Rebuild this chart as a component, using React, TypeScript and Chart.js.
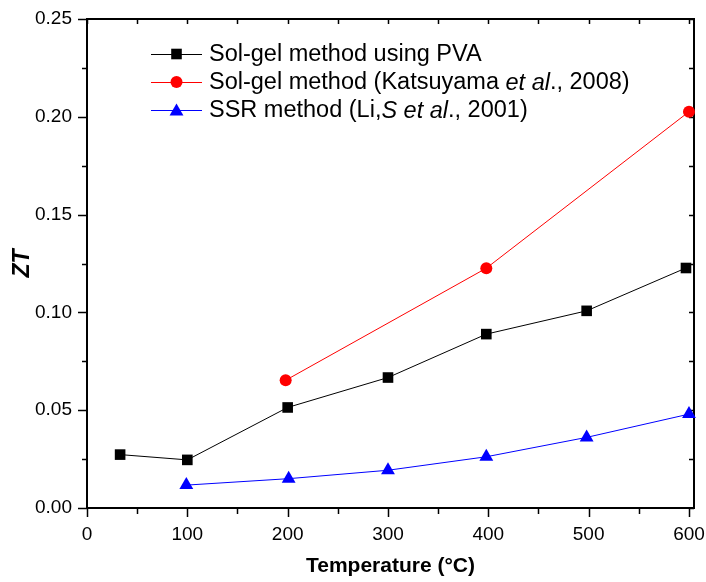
import React, { useEffect, useRef } from "react";
import { Chart, registerables } from "chart.js";

Chart.register(...registerables);

// ---- data ----
const pvaTemps = [33, 100, 200, 300, 398, 498, 597];
const pvaZT = [0.0273, 0.0246, 0.0514, 0.0667, 0.0889, 0.1008, 0.1227];
const katsuTemps = [198, 398, 600];
const katsuZT = [0.0653, 0.1226, 0.2026];
const liTemps = [99, 201, 300, 398, 498, 600];
const liZT = [0.0117, 0.015, 0.0193, 0.0262, 0.0361, 0.048];

const xTickValues = [0, 100, 200, 300, 400, 500, 600];
const yTickValues = [0, 0.05, 0.1, 0.15, 0.2, 0.25];

const FONT = "'Liberation Sans', Arial, sans-serif";

type Seg = { t: string; i?: boolean };
const legendItems: { color: string; shape: string; segs: Seg[] }[] = [
  { color: "#000000", shape: "rect", segs: [{ t: "Sol-gel method using PVA" }] },
  {
    color: "#ff0000",
    shape: "circle",
    segs: [{ t: "Sol-gel method (Katsuyama " }, { t: "et al", i: true }, { t: "., 2008)" }],
  },
  {
    color: "#0000ff",
    shape: "triangle",
    segs: [{ t: "SSR method (Li," }, { t: "S et al", i: true }, { t: "., 2001)" }],
  },
];

function drawMarker(ctx: CanvasRenderingContext2D, shape: string, x: number, y: number, color: string) {
  ctx.save();
  ctx.fillStyle = color;
  ctx.beginPath();
  if (shape === "rect") {
    const s = 5.3;
    ctx.rect(x - s, y - s, 2 * s, 2 * s);
  } else if (shape === "circle") {
    ctx.arc(x, y, 6, 0, Math.PI * 2);
  } else {
    const r = 8;
    ctx.moveTo(x, y - r);
    ctx.lineTo(x + r * Math.sin((2 * Math.PI) / 3), y + r / 2);
    ctx.lineTo(x - r * Math.sin((2 * Math.PI) / 3), y + r / 2);
    ctx.closePath();
  }
  ctx.fill();
  ctx.restore();
}

const framePlugin = {
  id: "frame",
  beforeDatasetsDraw(chart: any) {
    const { ctx, chartArea: a, scales } = chart;
    const xs = scales.x;
    const ys = scales.y;
    ctx.save();
    ctx.strokeStyle = "#000";
    ctx.lineWidth = 2;
    ctx.strokeRect(a.left, a.top, a.right - a.left, a.bottom - a.top);
    ctx.lineWidth = 1.5;
    ctx.beginPath();
    for (let v = 0; v <= 600; v += 50) {
      const px = Math.round(xs.getPixelForValue(v)) + 0.5;
      const major = v % 100 === 0;
      ctx.moveTo(px, a.bottom);
      ctx.lineTo(px, a.bottom + (major ? 9 : 6));
      ctx.moveTo(px, a.top);
      ctx.lineTo(px, a.top + 5);
    }
    for (let k = 0; k <= 10; k++) {
      const v = k * 0.025;
      const py = Math.round(ys.getPixelForValue(v)) + 0.5;
      const major = k % 2 === 0;
      ctx.moveTo(a.left, py);
      ctx.lineTo(a.left - (major ? 9 : 5), py);
      ctx.moveTo(a.right, py);
      ctx.lineTo(a.right - 5, py);
    }
    ctx.stroke();
    ctx.restore();
  },
  afterDatasetsDraw(chart: any) {
    const { ctx } = chart;
    const rows = [54, 82, 110];
    ctx.save();
    legendItems.forEach((it, i) => {
      const y = rows[i];
      ctx.strokeStyle = it.color;
      ctx.lineWidth = 1;
      ctx.beginPath();
      ctx.moveTo(151, y + 0.5);
      ctx.lineTo(202, y + 0.5);
      ctx.stroke();
      drawMarker(ctx, it.shape, 176.5, it.shape === "triangle" ? y + 1.5 : y, it.color);
      let x = 209;
      ctx.fillStyle = "#000";
      ctx.textBaseline = "middle";
      ctx.textAlign = "left";
      it.segs.forEach((s) => {
        ctx.font = `${s.i ? "italic " : ""}23.5px ${FONT}`;
        ctx.fillText(s.t, x, y + 1);
        x += ctx.measureText(s.t).width;
      });
    });
    ctx.restore();
  },
};

export default function App() {
  const ref = useRef<HTMLCanvasElement | null>(null);
  useEffect(() => {
    if (!ref.current) return;
    const toPts = (xs: number[], ys: number[]) => xs.map((x, i) => ({ x, y: ys[i] }));
    const chart = new Chart(ref.current, {
      type: "scatter",
      data: {
        datasets: [
          {
            label: "Sol-gel method using PVA",
            data: toPts(pvaTemps, pvaZT),
            showLine: true,
            borderColor: "#000000",
            backgroundColor: "#000000",
            borderWidth: 1,
            pointStyle: "rect",
            pointRadius: 7.5,
            pointBorderWidth: 0,
            clip: false,
          },
          {
            label: "Sol-gel method (Katsuyama et al., 2008)",
            data: toPts(katsuTemps, katsuZT),
            showLine: true,
            borderColor: "#ff0000",
            backgroundColor: "#ff0000",
            borderWidth: 1,
            pointStyle: "circle",
            pointRadius: 6,
            pointBorderWidth: 0,
            clip: false,
          },
          {
            label: "SSR method (Li,S et al., 2001)",
            data: toPts(liTemps, liZT),
            showLine: true,
            borderColor: "#0000ff",
            backgroundColor: "#0000ff",
            borderWidth: 1,
            pointStyle: "triangle",
            pointRadius: 8,
            pointBorderWidth: 0,
            clip: false,
          },
        ],
      },
      options: {
        animation: false,
        responsive: true,
        maintainAspectRatio: false,
        layout: { padding: { top: 19, right: 12, left: 0, bottom: 0 } },
        plugins: { legend: { display: false }, tooltip: { enabled: false } },
        scales: {
          x: {
            type: "linear",
            min: 0,
            max: 605,
            afterBuildTicks: (s: any) => {
              s.ticks = xTickValues.map((v) => ({ value: v }));
            },
            afterFit: (s: any) => {
              s.height = 74;
              s.paddingLeft = 0;
              s.paddingRight = 0;
              s.paddingTop = 0;
              s.paddingBottom = 0;
            },
            grid: { display: false, drawTicks: false },
            border: { display: false },
            ticks: {
              color: "#000",
              font: { family: FONT, size: 19 },
              padding: 15,
              maxRotation: 0,
              callback: (v: any) => String(v),
            },
            title: {
              display: true,
              text: "Temperature (°C)",
              color: "#000",
              font: { family: FONT, size: 21, weight: "bold" },
              padding: { top: 0, bottom: 3 },
            },
          },
          y: {
            type: "linear",
            min: 0,
            max: 0.25,
            afterBuildTicks: (s: any) => {
              s.ticks = yTickValues.map((v) => ({ value: v }));
            },
            afterFit: (s: any) => {
              s.width = 87;
              s.paddingLeft = 0;
              s.paddingRight = 0;
              s.paddingTop = 0;
              s.paddingBottom = 0;
            },
            grid: { display: false, drawTicks: false },
            border: { display: false },
            ticks: {
              color: "#000",
              font: { family: FONT, size: 19 },
              padding: 15,
              callback: (v: any) => Number(v).toFixed(2),
            },
            title: {
              display: true,
              text: "ZT",
              color: "#000",
              font: { family: FONT, size: 23, weight: "bold", style: "italic" },
              padding: { top: 9, bottom: 0 },
            },
          },
        },
      },
      plugins: [framePlugin],
    } as any);
    return () => chart.destroy();
  }, []);
  return (
    <div style={{ position: "absolute", left: 0, top: 0, width: 706, height: 582 }}>
      <canvas ref={ref} />
    </div>
  );
}
